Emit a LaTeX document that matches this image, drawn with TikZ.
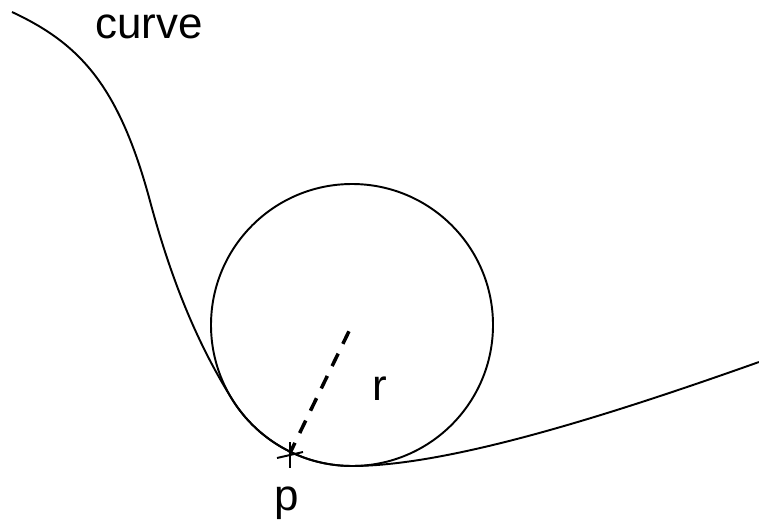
\documentclass[tikz,border=0pt]{standalone}
\usepackage{fontspec}
\setmainfont{Liberation Sans}
\usetikzlibrary{calc}
\tikzset{
  lbl/.style={font=\fontsize{25}{30}\selectfont, inner sep=0pt},
  thinline/.style={line width=1.1pt},
  radiusline/.style={line width=2pt, dash pattern=on 7.9pt off 6.2pt},
}

\begin{document}
\begin{tikzpicture}[x=0.2mm, y=0.2mm]
\useasboundingbox (0,0) rectangle (759,521);
\coordinate (c) at (352,196);
\coordinate (p) at (290,68);
\coordinate (rtop) at ($(c)!4pt!(p)$);
% curve, touching the circle from p to its bottom
\draw[thinline] (12,509) .. controls (79.5,477.5) and (118.8,435.9) .. (150,320)
  .. controls (173.4,233) and (200.6,172.2) .. (232.4,121.3)
  arc[start angle=212, end angle=270, radius=141]
  .. controls (452,55) and (618,109) .. (759,159);
\draw[thinline] (c) circle[radius=141];
\draw[radiusline] (rtop) -- (p);
% marker at p
\draw[thinline] ($(p)+(0,11)$) -- ($(p)+(0,-15)$);
\draw[thinline] ($(p)+(-13,-5)$) -- ($(p)+(13,1)$);
\node[lbl] (curvelabel) at (149,494) {curve};
\node[lbl] (rlabel) at (380,132) {r};
\node[lbl] (plabel) at (287,18) {p};
\end{tikzpicture}
\end{document}
